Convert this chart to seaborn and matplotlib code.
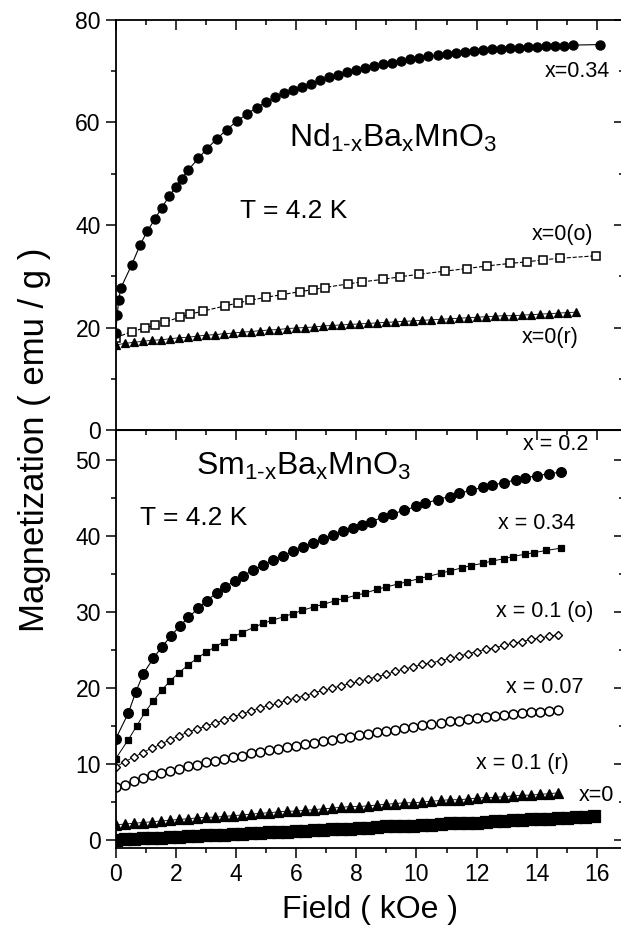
import matplotlib
matplotlib.use("Agg")
import matplotlib.pyplot as plt
from matplotlib.ticker import MultipleLocator
import seaborn as sns

# ---------------- data ----------------
# Top panel: Nd(1-x)Ba(x)MnO3
nd034_field = [0.00, 0.05, 0.10, 0.17, 0.53, 0.81, 1.05, 1.31, 1.53, 1.78, 2.00, 2.19,
               2.42, 2.75, 3.02, 3.36, 3.69, 4.02, 4.35, 4.69, 5.00, 5.30, 5.60, 5.90,
               6.20, 6.50, 6.80, 7.10, 7.40, 7.70, 8.00, 8.30, 8.60, 8.90, 9.20, 9.50,
               9.80, 10.10, 10.40, 10.70, 11.00, 11.30, 11.60, 11.90, 12.20, 12.50,
               12.80, 13.10, 13.40, 13.70, 14.00, 14.30, 14.60, 14.90, 15.20, 16.10]
nd034_mag = [18.9, 22.4, 25.4, 27.7, 32.2, 36.1, 38.8, 41.2, 43.4, 45.6, 47.5, 49.0,
             50.8, 53.0, 54.8, 56.8, 58.6, 60.2, 61.6, 62.9, 64.0, 64.9, 65.7, 66.4,
             67.0, 67.6, 68.2, 68.8, 69.3, 69.8, 70.2, 70.6, 71.0, 71.4, 71.7, 72.0,
             72.3, 72.6, 72.9, 73.1, 73.4, 73.6, 73.8, 74.0, 74.1, 74.3,
             74.4, 74.5, 74.6, 74.7, 74.8, 74.9, 75.0, 75.0, 75.1, 75.2]

nd0o_field = [0.00, 0.53, 0.97, 1.31, 1.64, 2.14, 2.47, 2.90, 3.63, 4.07, 4.47, 5.00,
              5.52, 6.13, 6.57, 6.95, 7.72, 8.18, 8.90, 9.45, 10.10, 10.95, 11.67,
              12.33, 13.10, 13.66, 14.20, 14.77, 15.98]
nd0o_mag = [18.0, 19.2, 19.9, 20.5, 21.1, 22.0, 22.6, 23.2, 24.2, 24.8, 25.3, 25.9,
            26.4, 27.0, 27.4, 27.8, 28.5, 28.9, 29.4, 29.9, 30.4, 31.0, 31.5,
            32.0, 32.5, 32.8, 33.2, 33.5, 34.0]

nd0r_field = [0.0, 0.3, 0.6, 0.9, 1.2, 1.5, 1.8, 2.1, 2.4, 2.7, 3.0, 3.3, 3.6, 3.9,
              4.2, 4.5, 4.8, 5.1, 5.4, 5.7, 6.0, 6.3, 6.6, 6.9, 7.2, 7.5, 7.8, 8.1,
              8.4, 8.7, 9.0, 9.3, 9.6, 9.9, 10.2, 10.5, 10.8, 11.1, 11.4, 11.7, 12.0,
              12.3, 12.6, 12.9, 13.2, 13.5, 13.8, 14.1, 14.4, 14.7, 15.0, 15.3]
nd0r_mag = [16.6, 16.9, 17.1, 17.3, 17.5, 17.6, 17.8, 18.0, 18.1, 18.3, 18.5, 18.6,
            18.8, 18.9, 19.1, 19.2, 19.4, 19.5, 19.6, 19.8, 19.9, 20.0, 20.1, 20.3,
            20.4, 20.5, 20.6, 20.7, 20.8, 20.9, 21.0, 21.1, 21.2, 21.3, 21.4, 21.5,
            21.6, 21.7, 21.8, 21.9, 22.0, 22.1, 22.2, 22.3, 22.3, 22.4, 22.5, 22.6,
            22.7, 22.8, 22.9, 23.0]

# Bottom panel: Sm(1-x)Ba(x)MnO3
sm02_field = [0.00, 0.42, 0.67, 0.92, 1.25, 1.53, 1.83, 2.14, 2.42, 2.75, 3.02, 3.36,
              3.63, 3.97, 4.24, 4.57, 4.91, 5.24, 5.57, 5.90, 6.24, 6.57, 6.90, 7.23,
              7.57, 7.90, 8.20, 8.50, 8.90, 9.20, 9.60, 10.00, 10.30, 10.70, 11.10,
              11.40, 11.80, 12.20, 12.50, 12.90, 13.30, 13.60, 14.00, 14.40, 14.80]
sm02_mag = [13.3, 16.7, 19.5, 21.9, 23.9, 25.4, 26.8, 28.2, 29.3, 30.5, 31.5, 32.5,
            33.3, 34.1, 34.8, 35.5, 36.2, 36.8, 37.4, 38.0, 38.6, 39.1, 39.6, 40.1,
            40.6, 41.1, 41.5, 41.9, 42.5, 42.9, 43.4, 43.9, 44.3, 44.8, 45.2,
            45.6, 46.0, 46.4, 46.7, 47.0, 47.4, 47.7, 47.9, 48.2, 48.4]

sm034_field = [0.00, 0.42, 0.70, 0.97, 1.25, 1.53, 1.80, 2.10, 2.40, 2.70, 3.00, 3.30,
               3.60, 3.90, 4.20, 4.60, 4.90, 5.20, 5.60, 5.90, 6.20, 6.60, 6.90, 7.30,
               7.60, 8.00, 8.30, 8.70, 9.00, 9.40, 9.70, 10.10, 10.40, 10.80, 11.10,
               11.50, 11.80, 12.20, 12.50, 12.90, 13.20, 13.60, 13.90, 14.30, 14.80]
sm034_mag = [10.7, 13.2, 15.0, 16.8, 18.3, 19.7, 20.9, 22.0, 23.0, 23.9, 24.7, 25.4,
             26.1, 26.7, 27.3, 28.0, 28.5, 28.9, 29.4, 29.8, 30.2, 30.7, 31.0, 31.5,
             31.8, 32.2, 32.5, 33.0, 33.3, 33.7, 34.0, 34.4, 34.7, 35.1, 35.4,
             35.8, 36.1, 36.4, 36.7, 37.0, 37.3, 37.6, 37.8, 38.1, 38.4]

sm01o_field = [0.0, 0.3, 0.6, 0.9, 1.2, 1.5, 1.8, 2.1, 2.4, 2.7, 3.0, 3.3, 3.6, 3.9,
               4.2, 4.5, 4.8, 5.1, 5.4, 5.7, 6.0, 6.3, 6.6, 6.9, 7.2, 7.5, 7.8, 8.1,
               8.4, 8.7, 9.0, 9.3, 9.6, 9.9, 10.2, 10.5, 10.8, 11.1, 11.4, 11.7, 12.0,
               12.3, 12.6, 12.9, 13.2, 13.5, 13.8, 14.1, 14.4, 14.7]
sm01o_mag = [9.6, 10.3, 10.9, 11.5, 12.1, 12.6, 13.2, 13.7, 14.2, 14.6, 15.0, 15.4,
             15.8, 16.2, 16.6, 17.0, 17.4, 17.7, 18.0, 18.4, 18.7, 19.0, 19.4, 19.7,
             20.0, 20.3, 20.6, 20.9, 21.2, 21.5, 21.8, 22.2, 22.5, 22.8, 23.1, 23.3,
             23.6, 23.9, 24.2, 24.5, 24.8, 25.1, 25.3, 25.6, 25.9, 26.1, 26.4, 26.6,
             26.8, 27.0]

sm007_field = [0.0, 0.3, 0.6, 0.9, 1.2, 1.5, 1.8, 2.1, 2.4, 2.7, 3.0, 3.3, 3.6, 3.9,
               4.2, 4.5, 4.8, 5.1, 5.4, 5.7, 6.0, 6.3, 6.6, 6.9, 7.2, 7.5, 7.8, 8.1,
               8.4, 8.7, 9.0, 9.3, 9.6, 9.9, 10.2, 10.5, 10.8, 11.1, 11.4, 11.7, 12.0,
               12.3, 12.6, 12.9, 13.2, 13.5, 13.8, 14.1, 14.4, 14.7]
sm007_mag = [7.0, 7.3, 7.7, 8.1, 8.5, 8.8, 9.1, 9.4, 9.7, 9.9, 10.2, 10.4, 10.7, 10.9,
             11.1, 11.4, 11.6, 11.8, 12.0, 12.2, 12.4, 12.6, 12.8, 13.0, 13.2, 13.4,
             13.6, 13.8, 14.0, 14.2, 14.4, 14.5, 14.7, 14.9, 15.1, 15.2, 15.4, 15.6,
             15.7, 15.9, 16.0, 16.2, 16.3, 16.5, 16.6, 16.7, 16.8, 16.9, 17.0, 17.1]

sm01r_field = [0.0, 0.3, 0.6, 0.9, 1.2, 1.5, 1.8, 2.1, 2.4, 2.7, 3.0, 3.3, 3.6, 3.9,
               4.2, 4.5, 4.8, 5.1, 5.4, 5.7, 6.0, 6.3, 6.6, 6.9, 7.2, 7.5, 7.8, 8.1,
               8.4, 8.7, 9.0, 9.3, 9.6, 9.9, 10.2, 10.5, 10.8, 11.1, 11.4, 11.7, 12.0,
               12.3, 12.6, 12.9, 13.2, 13.5, 13.8, 14.1, 14.4, 14.7]
sm01r_mag = [2.0, 2.1, 2.2, 2.3, 2.4, 2.5, 2.6, 2.7, 2.8, 2.9, 3.0, 3.0, 3.1, 3.2,
             3.3, 3.4, 3.5, 3.6, 3.7, 3.8, 3.8, 3.9, 4.0, 4.1, 4.2, 4.3, 4.4, 4.4,
             4.5, 4.6, 4.7, 4.8, 4.9, 4.9, 5.0, 5.1, 5.2, 5.3, 5.3, 5.4, 5.5, 5.6,
             5.6, 5.7, 5.8, 5.9, 5.9, 6.0, 6.1, 6.2]

sm0_field = [0.0, 0.3, 0.6, 0.9, 1.2, 1.5, 1.8, 2.1, 2.4, 2.7, 3.0, 3.3, 3.6, 3.9,
             4.2, 4.5, 4.8, 5.1, 5.4, 5.7, 6.0, 6.3, 6.6, 6.9, 7.2, 7.5, 7.8, 8.1,
             8.4, 8.7, 9.0, 9.3, 9.6, 9.9, 10.2, 10.5, 10.8, 11.1, 11.4, 11.7, 12.0,
             12.3, 12.6, 12.9, 13.2, 13.5, 13.8, 14.1, 14.4, 14.7, 15.0, 15.3, 15.6,
             15.9]
sm0_mag = [0.0, 0.1, 0.1, 0.2, 0.2, 0.3, 0.4, 0.4, 0.5, 0.5, 0.6, 0.6, 0.7, 0.8,
           0.8, 0.9, 0.9, 1.0, 1.1, 1.1, 1.2, 1.2, 1.3, 1.3, 1.4, 1.5, 1.5, 1.6,
           1.6, 1.7, 1.8, 1.8, 1.9, 1.9, 2.0, 2.0, 2.1, 2.2, 2.2, 2.3, 2.3, 2.4,
           2.5, 2.5, 2.6, 2.6, 2.7, 2.8, 2.8, 2.9, 2.9, 3.0, 3.0, 3.1]

top_yticks = [0, 20, 40, 60, 80]
bot_yticks = [0, 10, 20, 30, 40, 50]
xticks = [0, 2, 4, 6, 8, 10, 12, 14, 16]

# ---------------- style ----------------
sns.set_style("ticks")
plt.rcParams["font.family"] = ["Liberation Sans", "DejaVu Sans"]
plt.rcParams["mathtext.fontset"] = "custom"
plt.rcParams["mathtext.rm"] = "Liberation Sans"
plt.rcParams["mathtext.it"] = "Liberation Sans"
plt.rcParams["mathtext.default"] = "regular"
for k in ("text.color", "axes.labelcolor", "xtick.color", "ytick.color",
          "axes.edgecolor", "xtick.labelcolor", "ytick.labelcolor"):
    plt.rcParams[k] = "black"

fig = plt.figure(figsize=(6.21, 9.34), dpi=100)
L, W = 0.1863, 0.8185
ax1 = fig.add_axes([L, 0.5396, W, 0.4390])
ax2 = fig.add_axes([L, 0.0921, W, 0.4475])


def series(ax, x, y, marker, ms, filled=True, ls="-", lw=0.8, mew=0.9):
    sns.lineplot(x=x, y=y, ax=ax, color="black", linewidth=lw, linestyle=ls,
                 marker=marker, markersize=ms,
                 markerfacecolor="black" if filled else "white",
                 markeredgecolor="black", markeredgewidth=mew,
                 estimator=None, sort=False, legend=False)


# top panel
series(ax1, nd0r_field, nd0r_mag, "^", 6.3, lw=0.6)
series(ax1, nd0o_field, nd0o_mag, "s", 5.2, filled=False, ls="--", lw=0.8, mew=1.1)
series(ax1, nd034_field, nd034_mag, "o", 6.6, lw=0.8)

# bottom panel
series(ax2, sm0_field, sm0_mag, "s", 8.5, lw=0.6)
series(ax2, sm01r_field, sm01r_mag, "^", 7.0, lw=0.6)
series(ax2, sm007_field, sm007_mag, "o", 6.4, filled=False, lw=0.6, mew=1.1)
series(ax2, sm01o_field, sm01o_mag, "D", 4.4, filled=False, lw=0.6, mew=1.0)
series(ax2, sm034_field, sm034_mag, "s", 4.8, lw=0.7)
series(ax2, sm02_field, sm02_mag, "o", 7.0, lw=0.8)

xmax = 16.9
for ax in (ax1, ax2):
    ax.set_xlim(0, xmax)
    ax.set_xticks(xticks)
    ax.xaxis.set_minor_locator(MultipleLocator(1))
    for s in ax.spines.values():
        s.set_linewidth(1.3)
        s.set_color("black")
    ax.set_xlabel("")
    ax.set_ylabel("")

ax1.set_ylim(0, 80)
ax1.set_yticks(top_yticks)
ax1.yaxis.set_minor_locator(MultipleLocator(10))
ax2.set_ylim(-1.05, 53.95)
ax2.set_yticks(bot_yticks)
ax2.yaxis.set_minor_locator(MultipleLocator(5))

for ax in (ax1, ax2):
    ax.tick_params(axis="y", which="both", left=True, right=False, labelleft=True,
                   labelright=False, labelsize=16.5, width=1.1, color="black",
                   direction="out", labelcolor="black")
    ax.tick_params(axis="y", which="major", length=7.2)
    ax.tick_params(axis="y", which="minor", length=3.6)
    sec = ax.secondary_yaxis("right")
    sec.set_yticks(ax.get_yticks())
    sec.yaxis.set_minor_locator(ax.yaxis.get_minor_locator())
    sec.tick_params(axis="y", which="both", direction="in", labelright=False,
                    width=1.1, color="black")
    sec.tick_params(axis="y", which="major", length=7.2)
    sec.tick_params(axis="y", which="minor", length=3.6)
    sec.spines["right"].set_linewidth(1.3)

# x ticks: top of each panel inward; bottom of lower panel outward
ax1.tick_params(axis="x", which="both", top=True, bottom=False, labelbottom=False,
                labeltop=False, direction="in", width=1.1, color="black")
ax1.tick_params(axis="x", which="major", length=7.2)
ax1.tick_params(axis="x", which="minor", length=3.6)

ax2.tick_params(axis="x", which="both", top=False, bottom=True, labelbottom=True,
                direction="out", width=1.1, labelsize=16.5, color="black",
                labelcolor="black")
ax2.tick_params(axis="x", which="major", length=7.2)
ax2.tick_params(axis="x", which="minor", length=3.6)
secx = ax2.secondary_xaxis("top")
secx.set_xticks(xticks)
secx.xaxis.set_minor_locator(MultipleLocator(1))
secx.tick_params(axis="x", which="both", direction="in", labeltop=False, width=1.1,
                 color="black")
secx.tick_params(axis="x", which="major", length=7.2)
secx.tick_params(axis="x", which="minor", length=3.6)

# ---------------- texts ----------------
ax1.text(9.22, 55.3, r"Nd$_{1\text{-}x}$Ba$_x$MnO$_3$", fontsize=23, ha="center",
         va="baseline")
ax1.text(5.93, 41.4, "T = 4.2 K", fontsize=19, ha="center", va="baseline")
ax1.text(15.34, 69.9, "x=0.34", fontsize=15.5, ha="center", va="center")
ax1.text(14.87, 38.2, "x=0(o)", fontsize=15.5, ha="center", va="center")
ax1.text(14.44, 18.1, "x=0(r)", fontsize=15.5, ha="center", va="center")

ax2.text(6.23, 48.0, r"Sm$_{1\text{-}x}$Ba$_x$MnO$_3$", fontsize=23, ha="center",
         va="baseline")
ax2.text(2.6, 41.4, "T = 4.2 K", fontsize=19, ha="center", va="baseline")
ax2.text(14.64, 52.0, "x = 0.2", fontsize=15.5, ha="center", va="center")
ax2.text(13.98, 41.6, "x = 0.34", fontsize=15.5, ha="center", va="center")
ax2.text(14.27, 30.1, "x = 0.1 (o)", fontsize=15.5, ha="center", va="center")
ax2.text(14.27, 20.1, "x = 0.07", fontsize=15.5, ha="center", va="center")
ax2.text(13.52, 10.1, "x = 0.1 (r)", fontsize=15.5, ha="center", va="center")
ax2.text(15.97, 5.8, "x=0", fontsize=15.5, ha="center", va="center")

fig.text(0.055, 1 - 440 / 934, "Magnetization ( emu / g )", rotation=90,
         fontsize=25, ha="center", va="center")
fig.text(370 / 621, 1 - 910 / 934, "Field ( kOe )", fontsize=23, ha="center",
         va="center")

fig.savefig("out.png", dpi=100)
